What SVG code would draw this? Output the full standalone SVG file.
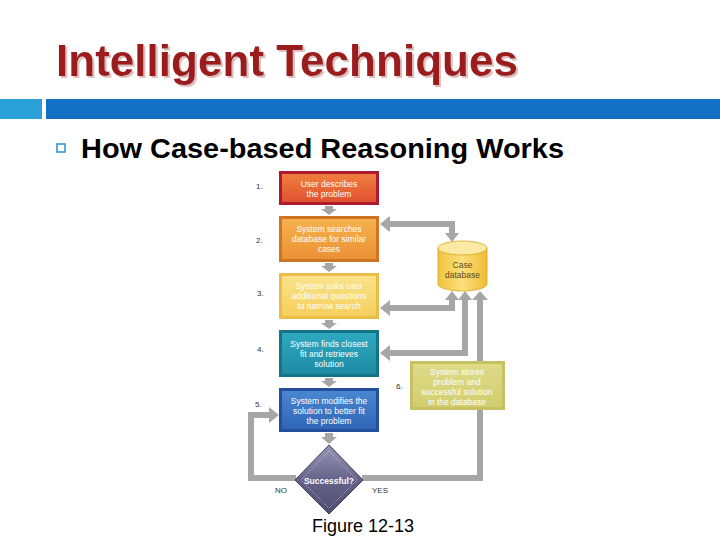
<svg xmlns="http://www.w3.org/2000/svg" width="720" height="540" viewBox="0 0 720 540">
<defs>
<style>
.bt{font-family:"Liberation Sans",Arial,sans-serif;font-size:8.5px;fill:#ffffff;text-anchor:middle}
.num{font-family:"Liberation Sans",Arial,sans-serif;font-size:8px;fill:#333333}
.lbl{font-family:"Liberation Sans",Arial,sans-serif;font-size:8px;fill:#333333}
.con{fill:none;stroke:#a6a6a6;stroke-width:6}
.ah{fill:#a6a6a6}
</style>
<filter id="sh" x="-5%" y="-20%" width="110%" height="140%"><feDropShadow dx="2" dy="2" stdDeviation="0.6" flood-color="#d9b8b8" flood-opacity="0.9"/></filter>
<linearGradient id="g1" x1="0" y1="0" x2="0" y2="1"><stop offset="0" stop-color="#ef7f3e"/><stop offset="1" stop-color="#e0512f"/></linearGradient>
<linearGradient id="g2" x1="0" y1="0" x2="0" y2="1"><stop offset="0" stop-color="#f6b24c"/><stop offset="1" stop-color="#eb9136"/></linearGradient>
<linearGradient id="g3" x1="0" y1="0" x2="0" y2="1"><stop offset="0" stop-color="#fbe28a"/><stop offset="1" stop-color="#f5cf5c"/></linearGradient>
<linearGradient id="g4" x1="0" y1="0" x2="0" y2="1"><stop offset="0" stop-color="#2fa9c0"/><stop offset="1" stop-color="#1d8aa3"/></linearGradient>
<linearGradient id="g5" x1="0" y1="0" x2="0" y2="1"><stop offset="0" stop-color="#4a86d0"/><stop offset="1" stop-color="#2f66b8"/></linearGradient>
<linearGradient id="g6" x1="0" y1="0" x2="0" y2="1"><stop offset="0" stop-color="#dedb88"/><stop offset="1" stop-color="#d2cd70"/></linearGradient>
<linearGradient id="gd" x1="0" y1="0" x2="0" y2="1"><stop offset="0" stop-color="#9896b6"/><stop offset="0.5" stop-color="#66638a"/><stop offset="1" stop-color="#4e4c70"/></linearGradient>
<linearGradient id="gc" x1="0" y1="0" x2="1" y2="0"><stop offset="0" stop-color="#f0c440"/><stop offset="0.5" stop-color="#fbe07a"/><stop offset="1" stop-color="#eebb34"/></linearGradient>
</defs>
<rect width="720" height="540" fill="#ffffff"/>
<text x="56" y="76" font-family="Liberation Sans,Arial,sans-serif" font-weight="bold" font-size="44" fill="#9b1a1c" textLength="462" lengthAdjust="spacingAndGlyphs" filter="url(#sh)">Intelligent Techniques</text>
<rect x="0" y="99" width="42" height="20" fill="#2aa0d8"/>
<rect x="46" y="99" width="674" height="20" fill="#1470c4"/>
<rect x="57" y="144" width="8" height="8" fill="none" stroke="#2b9ccc" stroke-width="1.6"/>
<text x="81" y="158" font-family="Liberation Sans,Arial,sans-serif" font-weight="bold" font-size="27" fill="#000000" textLength="483" lengthAdjust="spacingAndGlyphs">How Case-based Reasoning Works</text>
<g id="connectors">
<path class="con" d="M296,478 H251 V415 H270"/>
<polygon class="ah" points="269,407 279,415 269,423"/>
<path class="con" d="M362,478 H480 V410"/>
<path class="con" d="M480,361 V299"/>
<polygon class="ah" points="472,300 480,291 488,300"/>
<path class="con" d="M452,233 V224 H389"/>
<polygon class="ah" points="390,216 380,224 390,232"/>
<polygon class="ah" points="445,233 452,242 459,233"/>
<path class="con" d="M452,299 V308 H389"/>
<polygon class="ah" points="445,300 452,291 459,300"/>
<polygon class="ah" points="390,300 380,308 390,316"/>
<path class="con" d="M465,299 V353 H389"/>
<polygon class="ah" points="458,300 465,291 472,300"/>
<polygon class="ah" points="390,345 380,353 390,361"/>
<path class="ah" d="M325,206 h8 v3 h4 l-8,6 l-8,-6 h4 z"/>
<path class="ah" d="M325,263 h8 v3 h4 l-8,6 l-8,-6 h4 z"/>
<path class="ah" d="M325,320 h8 v3 h4 l-8,6 l-8,-6 h4 z"/>
<path class="ah" d="M325,378 h8 v3 h4 l-8,6 l-8,-6 h4 z"/>
<path class="ah" d="M325,433 h8 v4 h4 l-8,7 l-8,-7 h4 z"/>
</g>
<g id="step1">
<rect x="279" y="171" width="100" height="34" fill="#b01a30"/>
<rect x="282" y="174" width="94" height="28" fill="url(#g1)"/>
<text class="bt" x="329" y="187">User describes</text>
<text class="bt" x="329" y="197">the problem</text>
<text class="num" x="256" y="189">1.</text>
</g>
<g id="step2">
<rect x="279" y="216" width="100" height="46" fill="#cf7424"/>
<rect x="282" y="219" width="94" height="40" fill="url(#g2)"/>
<text class="bt" x="329" y="232">System searches</text>
<text class="bt" x="329" y="242">database for similar</text>
<text class="bt" x="329" y="252">cases</text>
<text class="num" x="256" y="243">2.</text>
</g>
<g id="step3">
<rect x="279" y="273" width="100" height="46" fill="#e9bd48"/>
<rect x="282" y="276" width="94" height="40" fill="url(#g3)"/>
<text class="bt" x="329" y="289">System asks user</text>
<text class="bt" x="329" y="299">additional questions</text>
<text class="bt" x="329" y="309">to narrow search</text>
<text class="num" x="257" y="296">3.</text>
</g>
<g id="step4">
<rect x="279" y="330" width="100" height="47" fill="#157388"/>
<rect x="282" y="333" width="94" height="41" fill="url(#g4)"/>
<text class="bt" x="329" y="347">System finds closest</text>
<text class="bt" x="329" y="357">fit and retrieves</text>
<text class="bt" x="329" y="367">solution</text>
<text class="num" x="257" y="352">4.</text>
</g>
<g id="step5">
<rect x="279" y="388" width="100" height="44" fill="#234f9c"/>
<rect x="282" y="391" width="94" height="38" fill="url(#g5)"/>
<text class="bt" x="329" y="404">System modifies the</text>
<text class="bt" x="329" y="414">solution to better fit</text>
<text class="bt" x="329" y="424">the problem</text>
<text class="num" x="255" y="407">5.</text>
</g>
<g id="step6">
<rect x="410" y="361" width="95" height="49" fill="#c6c262"/>
<rect x="413" y="364" width="89" height="43" fill="url(#g6)"/>
<text class="bt" x="457" y="375">System stores</text>
<text class="bt" x="457" y="385">problem and</text>
<text class="bt" x="457" y="395">successful solution</text>
<text class="bt" x="457" y="405">in the database</text>
<text class="num" x="396" y="389">6.</text>
</g>
<g id="database">
<path d="M438,248 V284 A24.5,7 0 0 0 487,284 V248 Z" fill="url(#gc)" stroke="#d9a520" stroke-width="0.8"/>
<ellipse cx="462.5" cy="248" rx="24.5" ry="7" fill="#fbe9a6" stroke="#d9a520" stroke-width="0.8"/>
<text x="462.5" y="268" font-family="Liberation Sans,Arial,sans-serif" font-size="8.5" fill="#5a4a1c" text-anchor="middle">Case</text>
<text x="462.5" y="278" font-family="Liberation Sans,Arial,sans-serif" font-size="8.5" fill="#5a4a1c" text-anchor="middle">database</text>
</g>
<g id="decision">
<polygon points="329,445 363,480 329,514 295,480" fill="url(#gd)" stroke="#3e3c5c" stroke-width="1"/>
<polygon points="329,451 357,480 329,508 301,480" fill="none" stroke="#d8d6ea" stroke-width="0.6" stroke-dasharray="1.5,1.5"/>
<text x="329" y="484" font-family="Liberation Sans,Arial,sans-serif" font-size="8.5" font-weight="bold" fill="#ffffff" text-anchor="middle">Successful?</text>
<text class="lbl" x="275" y="493">NO</text>
<text class="lbl" x="372" y="493">YES</text>
</g>
<text x="312" y="532" font-family="Liberation Sans,Arial,sans-serif" font-size="18" fill="#000000">Figure 12-13</text>
</svg>
